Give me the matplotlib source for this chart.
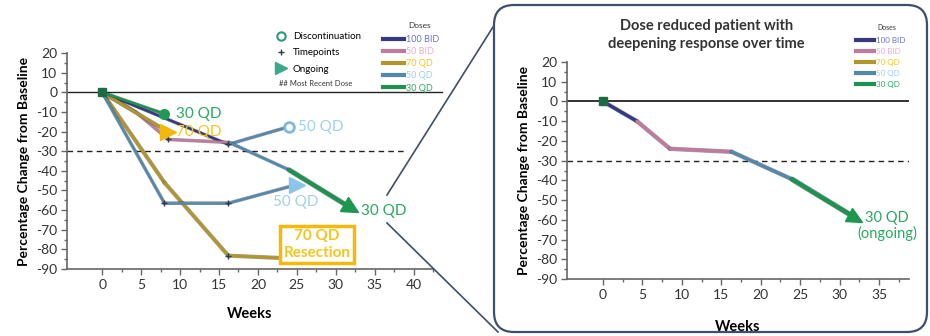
import numpy as np
import matplotlib
matplotlib.use("Agg")
import matplotlib.pyplot as plt
import matplotlib.patheffects as pe
from matplotlib.lines import Line2D
from matplotlib.patches import FancyBboxPatch
from matplotlib.markers import MarkerStyle
from matplotlib.transforms import Affine2D

plt.rcParams['font.family'] = ['Lato', 'DejaVu Sans']
plt.rcParams['axes.unicode_minus'] = False

# dose levels: line colour and label colour
doses = ['100 BID', '50 BID', '70 QD', '50 QD', '30 QD']
dose_line = {'100 BID': '#353a80', '50 BID': '#c07a9e', '70 QD': '#b3962a',
             '50 QD': '#5489ab', '30 QD': '#1f9150'}
dose_text = {'100 BID': '#6b70c4', '50 BID': '#f2a9d0', '70 QD': '#f6c51c',
             '50 QD': '#9fd0ee', '30 QD': '#2aa860'}

# per-patient tumour change over time (weeks, % change, dose of each segment)
p1_weeks = [0, 8]
p1_pct = [0, -11]
p1_doses = ['30 QD']

p2_weeks = [0, 8.4]
p2_pct = [0, -20]
p2_doses = ['70 QD']

pB_weeks = [0, 16.2, 24]
pB_pct = [0, -26.5, -17.5]
pB_doses = ['100 BID', '50 QD']

pC_weeks = [0, 8, 16.2, 25]
pC_pct = [0, -56.5, -56.5, -47]
pC_doses = ['50 QD', '50 QD', '50 QD']

pD_weeks = [0, 8, 16.2, 23]
pD_pct = [0, -46, -83.2, -84.4]
pD_doses = ['70 QD', '70 QD', '70 QD']

# dose-reduced patient shown in both panels
pA_weeks = [0, 4.3, 8.5, 16.3, 24, 32]
pA_pct = [0, -10, -24, -25.5, -39.5, -59]
pA_doses = ['100 BID', '50 BID', '50 BID', '50 QD', '30 QD']

xticks = [0, 5, 10, 15, 20, 25, 30, 35, 40]
xticks_right = [0, 5, 10, 15, 20, 25, 30, 35]
yticks = [20, 10, 0, -10, -20, -30, -40, -50, -60, -70, -80, -90]


def draw_patient(ax, weeks, pct, seg_doses, lw=1.8, last_lw=None, marks=None):
    for i, d in enumerate(seg_doses):
        w = last_lw if (last_lw and i == len(seg_doses) - 1) else lw
        ax.plot(weeks[i:i + 2], pct[i:i + 2], color=dose_line[d], lw=w,
                solid_capstyle='round', zorder=3,
                path_effects=[pe.Stroke(linewidth=w + 0.8, foreground='#2d3340', alpha=0.45),
                              pe.Normal()])
    if marks:
        ax.plot([weeks[i] for i in marks], [pct[i] for i in marks], ls='', marker='+',
                ms=4, mew=1, color='#2d3a4a', zorder=4)


def end_arrow(ax, weeks, pct, color, ms=10, rotate=True):
    ang = 0
    if rotate:
        p0 = ax.transData.transform((weeks[-2], pct[-2]))
        p1 = ax.transData.transform((weeks[-1], pct[-1]))
        ang = np.degrees(np.arctan2(p1[1] - p0[1], p1[0] - p0[0]))
    m = MarkerStyle('>', transform=Affine2D().rotate_deg(ang))
    ax.plot([weeks[-1]], [pct[-1]], ls='', marker=m, ms=ms, color=color, zorder=5)


def style_axes(ax, xlim, ticks):
    ax.set_xlim(*xlim)
    ax.set_ylim(-90, 20)
    ax.set_xticks(ticks)
    ax.set_xticks(np.arange(0, ticks[-1] + 5, 2.5), minor=True)
    ax.set_yticks(yticks)
    ax.set_yticks(np.arange(-90, 21, 5), minor=True)
    for s in ['top', 'right']:
        ax.spines[s].set_visible(False)
    for s in ['left', 'bottom']:
        ax.spines[s].set_color('#666666')
        ax.spines[s].set_linewidth(1.2)
    ax.tick_params(which='major', length=4, width=1, color='#666666',
                   labelsize=10, labelcolor='#333333', pad=3)
    ax.tick_params(which='minor', length=2.5, width=1, color='#666666')
    ax.set_xlabel('Weeks', fontsize=10.5, fontweight='bold', labelpad=12)
    ax.set_ylabel('Percentage Change from Baseline', fontsize=10, fontweight='bold',
                  labelpad=4)
    ax.patch.set_alpha(0)


def dose_legend(ax, x, y, fs, spacing, hlen):
    handles = [Line2D([], [], color=dose_line[d], lw=3) for d in doses]
    return ax.legend(handles, doses, loc='upper left', bbox_to_anchor=(x, y),
                     bbox_transform=fig.transFigure, frameon=False, fontsize=fs,
                     handlelength=hlen, handletextpad=0.3, labelspacing=spacing,
                     borderaxespad=0, borderpad=0,
                     labelcolor=[dose_text[d] for d in doses])


fig = plt.figure(figsize=(9.3, 3.36), dpi=100)

# ---------- left panel: all patients ----------
ax = fig.add_axes([0.072, 0.1994, 0.3936, 0.6426])
style_axes(ax, (-4.53, 41.5), xticks)
ax.plot([-4.53, 43.6], [0, 0], color='#222222', lw=1, clip_on=False, zorder=2)
ax.plot([-4.53, 39.2], [-30, -30], color='#222222', lw=1, ls=(0, (4, 3)), zorder=2)

draw_patient(ax, pD_weeks, pD_pct, pD_doses, lw=2.2, marks=[2])
draw_patient(ax, pC_weeks, pC_pct, pC_doses, marks=[1, 2])
draw_patient(ax, pB_weeks, pB_pct, pB_doses, marks=[1])
draw_patient(ax, pA_weeks, pA_pct, pA_doses, last_lw=3, marks=[2])
draw_patient(ax, p2_weeks, p2_pct, p2_doses, lw=2.2)
draw_patient(ax, p1_weeks, p1_pct, p1_doses)

ax.plot([0], [0], ls='', marker='s', ms=6, color='#1d6b45', zorder=6)
ax.plot([p1_weeks[-1]], [p1_pct[-1]], ls='', marker='o', ms=7, color='#1f9a55', zorder=5)
ax.plot([pB_weeks[-1]], [pB_pct[-1]], ls='', marker='o', ms=7, mfc='white',
        mec='#7fb9de', mew=2, zorder=5)
end_arrow(ax, p2_weeks, p2_pct, '#f2b90c', ms=11, rotate=False)
end_arrow(ax, pC_weeks, pC_pct, '#8cc4ec', ms=11, rotate=False)
end_arrow(ax, pA_weeks, pA_pct, '#1d9650', ms=11)

ax.text(9.5, p1_pct[-1], '30 QD', color=dose_text['30 QD'], fontsize=11, va='center')
ax.text(9.5, p2_pct[-1], '70 QD', color=dose_text['70 QD'], fontsize=11, va='center')
ax.text(25.2, pB_pct[-1], '50 QD', color=dose_text['50 QD'], fontsize=11, va='center')
ax.text(22, -56, '50 QD', color=dose_text['50 QD'], fontsize=11, va='center')
ax.text(33.2, -60.5, '30 QD', color=dose_text['30 QD'], fontsize=11, va='center')
ax.text(27.6, -77.5, '70 QD\nResection', color=dose_text['70 QD'], fontsize=11,
        ha='center', va='center', linespacing=1.3, fontweight='bold', zorder=6,
        bbox=dict(boxstyle='square,pad=0.2', fc='white', ec='#f4b90a', lw=2.5))

# symbol legend
sym_handles = [
    Line2D([], [], ls='', marker='o', ms=6, mfc='none', mec='#2a9a7a', mew=1.5),
    Line2D([], [], ls='', marker='+', ms=4, mew=1, color='#2d3a4a'),
    Line2D([], [], ls='', marker='>', ms=8, color='#3aa88a'),
]
leg1 = ax.legend(sym_handles, ['Discontinuation', 'Timepoints', 'Ongoing'],
                 loc='upper left', bbox_to_anchor=(0.296, 1 - 32 / 336),
                 bbox_transform=fig.transFigure, frameon=False, fontsize=7,
                 handlelength=1.2, handletextpad=0.6, labelspacing=0.75,
                 borderaxespad=0, borderpad=0)
ax.add_artist(leg1)
fig.text(0.3, 1 - 83 / 336, '## Most Recent Dose', fontsize=5.5, color='#333333', va='center')

# dose legend
fig.text(420 / 930, 1 - 25 / 336, 'Doses', fontsize=6, color='#333333', ha='center', va='center')
dose_legend(ax, 383 / 930, 1 - 35 / 336, 6.5, 0.35, 2.3)

# ---------- right panel: dose-reduced patient ----------
ax2 = fig.add_axes([0.6097, 0.1696, 0.3677, 0.6459])
style_axes(ax2, (-4.56, 38.8), xticks_right)
ax2.xaxis.labelpad = 14
ax2.plot([-4.56, 38.8], [0, 0], color='#111111', lw=1.2, zorder=2)
ax2.plot([-4.56, 39.0], [-30, -30], color='#222222', lw=1, ls=(0, (4, 3)), zorder=2)
draw_patient(ax2, pA_weeks, pA_pct, pA_doses, lw=2.4, last_lw=3.2)
ax2.plot([0], [0], ls='', marker='s', ms=6, color='#1d6b45', zorder=6)
end_arrow(ax2, pA_weeks, pA_pct, '#1d9650', ms=11)
ax2.text(36, -63, '30 QD\n(ongoing)', color=dose_text['30 QD'], fontsize=10.5,
         ha='center', va='center', linespacing=1.1)
fig.text(887 / 930, 1 - 28 / 336, 'Doses', fontsize=5, color='#333333', ha='center', va='center')
dose_legend(ax2, 856 / 930, 1 - 37 / 336, 5.8, 0.5, 2.2)
fig.text(0.76, 1 - 35 / 336, 'Dose reduced patient with\ndeepening response over time',
         ha='center', va='center', fontsize=10.5, fontweight='bold', color='#333333',
         linespacing=1.45)

# rounded frame round the zoomed panel and the connector lines
frame = FancyBboxPatch((4.94, 0.04), 4.33, 3.27, boxstyle='round,pad=0,rounding_size=0.2',
                       transform=fig.dpi_scale_trans, fc='none', ec='#3d4f6a', lw=1.6)
fig.add_artist(frame)
fig.add_artist(Line2D([3.87, 4.93], [1.41, 3.09], transform=fig.dpi_scale_trans,
                      color='#3d4f6a', lw=1.2))
fig.add_artist(Line2D([3.87, 4.98], [1.13, 0.04], transform=fig.dpi_scale_trans,
                      color='#3d4f6a', lw=1.2))

fig.savefig('out.png', dpi=100)
